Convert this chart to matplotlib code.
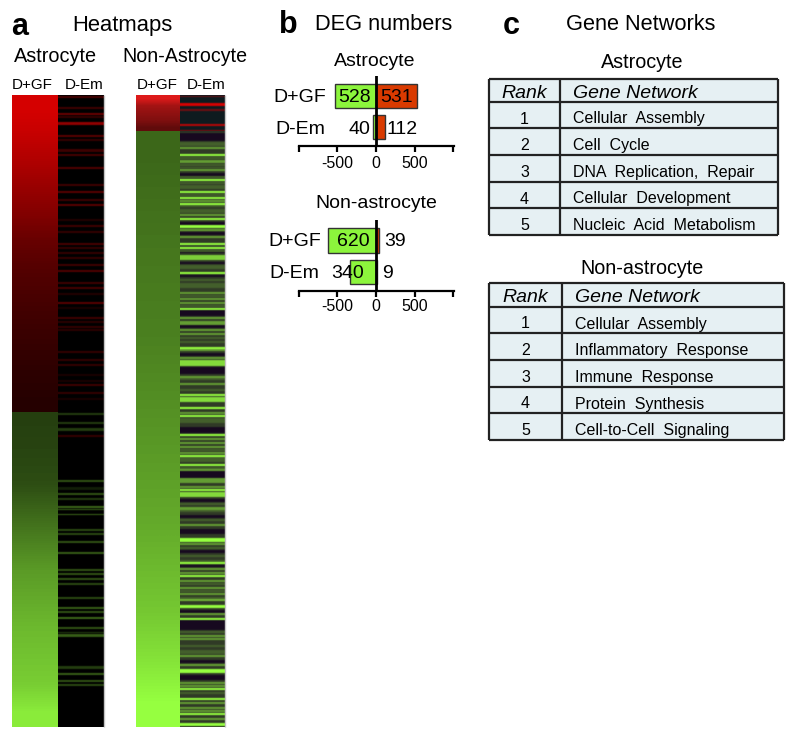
import matplotlib
matplotlib.use('Agg')
import matplotlib.pyplot as plt
from matplotlib.colors import LinearSegmentedColormap
import numpy as np

plt.rcParams['font.family'] = ['Liberation Sans', 'DejaVu Sans']

W, H = 800, 738
N_ROWS = 632

# ── Heatmap data (rows counted from the top of each heatmap) ──
astro_gf_up = [0.95, 0.88, 0.78, 0.68, 0.58, 0.46, 0.38, 0.33, 0.28, 0.24, 0.20, 0.17]
astro_gf_down = [0.25, 0.27, 0.30, 0.40, 0.50, 0.60, 0.66, 0.72, 0.76, 0.80, 0.92]
non_gf_up = [0.95, 0.70, 0.62, 0.55, 0.42]
non_gf_down = [0.40, 0.43, 0.46, 0.48, 0.50, 0.54, 0.58, 0.62, 0.66, 0.72, 0.78, 0.88, 1.00]

# (row, thickness, value): red is positive, green negative
astro_em = [
    (1, 2, 0.4), (12, 2, 0.35), (18, 2, 0.6), (21, 2, 0.3), (27, 3, 0.8), (40, 2, 0.5),
    (44, 2, 0.3), (54, 3, 0.35), (59, 2, 0.4), (72, 2, 0.45), (89, 2, 0.35), (96, 2, 0.5),
    (104, 2, 0.35), (109, 2, 0.5), (124, 2, 0.2), (130, 2, 0.35), (136, 2, 0.3), (148, 2, 0.4),
    (152, 2, 0.3), (157, 2, 0.3), (162, 2, 0.3), (169, 2, 0.35), (175, 2, 0.45), (187, 2, 0.35),
    (192, 2, 0.4), (198, 2, 0.2), (207, 2, 0.5), (212, 2, 0.15), (222, 2, 0.35), (226, 2, 0.25),
    (231, 2, 0.3), (234, 2, 0.25), (256, 2, 0.3), (264, 2, 0.3), (269, 2, 0.3), (279, 2, 0.15),
    (285, 2, 0.15), (289, 2, 0.35), (297, 2, 0.3), (303, 2, 0.15),
    (318, 2, -0.3), (327, 2, -0.3), (333, 3, -0.3), (340, 2, 0.3), (385, 2, -0.4), (392, 3, -0.15),
    (398, 2, -0.4), (403, 2, -0.3), (411, 2, -0.5), (414, 1, -0.5), (419, 1, -0.5), (434, 2, -0.35),
    (438, 2, -0.35), (446, 2, -0.4), (457, 2, -0.45), (474, 2, -0.4), (478, 2, -0.4), (483, 2, -0.4),
    (488, 2, -0.35), (502, 2, -0.35), (512, 2, -0.45), (516, 2, -0.4), (522, 2, -0.5), (532, 2, -0.4),
    (537, 1, -0.3), (539, 3, -0.45), (571, 3, -0.3), (578, 2, -0.45), (585, 2, -0.4), (589, 2, -0.35),
]
non_em_up = [(1, 1, 0.45), (8, 3, 0.95), (14, 2, 0.45), (29, 2, 0.8), (35, 2, 0.6)]
non_em_down = [
    (47, 2, -0.35), (49, 2, -0.35), (52, 2, -0.6), (59, 2, -1), (62, 2, -0.35), (65, 3, -0.6),
    (69, 2, -0.35), (72, 1, -0.35), (74, 2, -0.6), (81, 2, -0.35), (84, 2, -1), (87, 2, -0.35),
    (90, 2, -0.35), (92, 2, -0.35), (96, 2, -1), (99, 2, -0.35), (102, 2, -1), (105, 2, -0.6),
    (108, 2, -1), (110, 2, -0.35), (114, 4, -0.35), (119, 2, -0.6), (123, 2, -1), (130, 3, -1),
    (134, 2, -0.6), (141, 2, -0.6), (148, 2, -1), (152, 2, -1), (155, 2, -0.35), (160, 5, -0.8),
    (170, 4, -0.35), (177, 2, -1), (184, 2, -0.35), (188, 5, -0.35), (197, 2, -0.6), (200, 2, -0.35),
    (203, 2, -0.6), (207, 2, -0.6), (210, 2, -0.35), (213, 2, -1), (222, 2, -0.6), (226, 4, -0.6),
    (234, 2, -0.6), (238, 2, -0.6), (242, 2, -0.35), (246, 2, -0.35), (252, 2, -1), (254, 2, -0.6),
    (262, 2, -0.6), (265, 6, -0.85), (281, 2, -0.6), (283, 2, -0.35), (288, 2, -0.6), (294, 2, -0.35),
    (299, 2, -1), (302, 5, -0.85), (312, 2, -1), (317, 2, -0.6), (320, 2, -1), (323, 5, -0.35),
    (339, 2, -1), (343, 2, -0.6), (347, 2, -0.6), (351, 2, -0.6), (354, 2, -0.35), (357, 2, -0.6),
    (360, 2, -1), (362, 5, -0.35), (369, 2, -1), (372, 2, -0.35), (374, 2, -0.6), (383, 5, -0.6),
    (391, 2, -0.6), (394, 2, -1), (397, 5, -0.85), (408, 2, -0.35), (412, 3, -0.6), (415, 2, -0.35),
    (424, 2, -0.35), (429, 2, -0.6), (443, 4, -1), (448, 2, -0.6), (452, 2, -0.35), (460, 2, -0.35),
    (465, 2, -0.35), (467, 2, -1), (473, 2, -0.6), (477, 2, -0.6), (480, 2, -1), (485, 2, -0.6),
    (488, 2, -0.35), (492, 2, -0.6), (495, 2, -0.35), (498, 2, -0.6), (502, 2, -0.35), (504, 2, -0.7),
    (510, 3, -1), (518, 2, -0.6), (523, 2, -1), (536, 2, -0.35), (540, 2, -0.6), (543, 2, -0.6),
    (550, 2, -0.35), (555, 4, -0.35), (560, 2, -0.6), (569, 2, -0.6), (574, 4, -1), (587, 2, -0.6),
    (590, 2, -0.6), (593, 2, -1), (597, 2, -0.35), (603, 2, -1), (607, 2, -0.6), (612, 2, -0.6),
    (615, 2, -0.6), (618, 2, -1), (623, 2, -0.6), (628, 3, -1),
]
# rows with no signal at all, the rest of that column has a faint green wash
non_em_gaps = [(38, 8), (78, 3), (127, 3), (137, 3), (155, 3), (167, 2), (180, 2), (215, 6), (230, 3),
               (258, 3), (272, 7), (332, 6), (376, 7), (404, 3), (420, 3), (434, 5), (455, 3), (470, 2),
               (515, 3), (525, 10), (565, 3), (580, 5)]
astro_split = 317
non_split = 36

# ── DEG numbers ──
deg_rows = ['D+GF', 'D-Em']
astro_down = [528, 40]
astro_up = [531, 112]
non_down = [620, 340]
non_up = [39, 9]

# ── Gene networks ──
astro_networks = ['Cellular  Assembly', 'Cell  Cycle', 'DNA  Replication,  Repair',
                  'Cellular  Development', 'Nucleic  Acid  Metabolism']
non_networks = ['Cellular  Assembly', 'Inflammatory  Response', 'Immune  Response',
                'Protein  Synthesis', 'Cell-to-Cell  Signaling']
ranks = ['1', '2', '3', '4', '5']

heat = LinearSegmentedColormap.from_list('heat', ['#96ff40', '#000000', '#e00000'])
heat_muted = LinearSegmentedColormap.from_list('heat_m', ['#96ff40', '#000000', '#e81c1c'])
heat_purple = LinearSegmentedColormap.from_list('heat_p', ['#96ff40', '#170a20', '#e00000'])
heat_teal = LinearSegmentedColormap.from_list('heat_t', ['#96ff40', '#0e1c20', '#e00000'])


def px_axes(x0, y0, x1, y1):
    return fig.add_axes([x0 / W, 1 - y1 / H, (x1 - x0) / W, (y1 - y0) / H])


def stripe_rows(stripes, start, stop, kernel, wash=0.0, gaps=()):
    vals = np.full(stop - start, wash)
    for row, n in gaps:
        vals[row - start:row - start + n] = 0
    for row, thick, v in stripes:
        vals[row - start:row - start + thick] = v
    # the scan is slightly soft
    return np.convolve(vals, kernel, mode='same')


def draw_col(ax, vals, start, stop, cmap):
    ax.imshow(np.array(vals).reshape(-1, 1), aspect='auto', cmap=cmap, vmin=-1, vmax=1,
              interpolation='bilinear', extent=[0, 1, stop, start])


def heat_column(x0, x1, up, down, split, up_cmap):
    ax = px_axes(x0, 95, x1, 727)
    draw_col(ax, up, 0, split, up_cmap)
    draw_col(ax, -np.array(down), split, N_ROWS, heat)
    ax.set_xlim(0, 1)
    ax.set_ylim(N_ROWS, 0)
    ax.axis('off')


fig = plt.figure(figsize=(W / 100, H / 100), dpi=100)

# ── a: heatmaps ──
heat_column(12, 58, astro_gf_up, astro_gf_down, astro_split, heat)
heat_column(136, 180, non_gf_up, non_gf_down, non_split, heat_muted)

ax = px_axes(58, 95, 103, 727)
draw_col(ax, stripe_rows(astro_em, 0, N_ROWS, [0.15, 0.5, 0.15]), 0, N_ROWS, heat)
ax.set_xlim(0, 1)
ax.set_ylim(N_ROWS, 0)
ax.axis('off')

ax = px_axes(180, 95, 224, 727)
draw_col(ax, stripe_rows(non_em_up, 0, non_split, [0.2, 0.6, 0.2]), 0, non_split, heat_teal)
draw_col(ax, stripe_rows(non_em_down, non_split, N_ROWS, [0.2, 0.6, 0.2], -0.2, non_em_gaps),
         non_split, N_ROWS, heat_purple)
ax.set_xlim(0, 1)
ax.set_ylim(N_ROWS, 0)
ax.axis('off')


# ── b: bars ──
def deg_panel(y0, y1, down, up, pad):
    ax = px_axes(298.5, y0, 453.5, y1)
    y = np.arange(len(deg_rows))
    ax.barh(y, -np.array(down), 0.78, color='#8cf53c', edgecolor='#333333', linewidth=1)
    ax.barh(y, up, 0.78, color='#d93a00', edgecolor='#333333', linewidth=1)
    ax.axvline(0, color='black', lw=2, zorder=5)
    ax.set_xlim(-1006, 1006)
    ax.set_ylim(1.62, -0.66)
    for s in ['left', 'right', 'top']:
        ax.spines[s].set_visible(False)
    ax.spines['bottom'].set_linewidth(1.6)
    ax.set_yticks([])
    ax.set_xticks([-1000, -500, 0, 500, 1000])
    ax.set_xticklabels(['', '-500', '0', '500', ''], fontsize=11.5)
    ax.tick_params(axis='x', length=4, width=1.6, pad=pad)
    return ax


deg_panel(76, 146, astro_down, astro_up, 3)
deg_panel(220, 291, non_down, non_up, 2)

# ── overlay in pixel coordinates: text and the tables ──
ov = fig.add_axes([0, 0, 1, 1], zorder=10)
ov.set_xlim(0, W)
ov.set_ylim(H, 0)
ov.axis('off')
ov.patch.set_alpha(0)
ov.vlines([103.5, 224.5], 95, 727, color='#c4c4c4', lw=1)


def label(x, y, s, size=14, **kw):
    ov.text(x, y, s, fontsize=size, va='center', ha=kw.pop('ha', 'center'), **kw)


label(19.5, 27, 'a', 22, fontweight='bold')
label(288, 25, 'b', 22, fontweight='bold')
label(511, 26, 'c', 22, fontweight='bold')
label(122, 25, 'Heatmaps', 15.8)
label(384, 25, 'DEG numbers', 15.7)
label(641, 25, 'Gene Networks', 15.7)
label(56, 56, 'Astrocyte', 14.3)
label(184.5, 56, 'Non-Astrocyte', 14.1)
for x, s in [(32, 'D+GF'), (84.5, 'D-Em'), (157, 'D+GF'), (206, 'D-Em')]:
    label(x, 85, s, 11)

label(375, 62, 'Astrocyte', 14)
label(376, 204, 'Non-astrocyte', 14)
label(300, 97, 'D+GF', 14)
label(300, 130, 'D-Em', 14)
label(355, 97, str(astro_down[0]), 14)
label(397, 97, str(astro_up[0]), 14)
label(370, 130, str(astro_down[1]), 14, ha='right')
label(386, 130, str(astro_up[1]), 14, ha='left')
label(295, 241, 'D+GF', 14)
label(294, 273, 'D-Em', 14)
label(353, 241, str(non_down[0]), 14)
label(384, 241, str(non_up[0]), 14, ha='left')
label(331, 273, str(non_down[1]), 14, ha='left')
label(382, 273, str(non_up[1]), 14, ha='left')


def net_table(title, title_y, x1, xdiv, seps, networks):
    label(642, title_y, title, 14.2)
    x0 = 489
    ov.fill_between([x0, x1], seps[0], seps[-1], color='#e6f0f3', lw=0, zorder=1)
    ov.hlines(seps, x0, x1, color='#222222', lw=1.6, zorder=2)
    ov.vlines([x0, xdiv, x1], seps[0], seps[-1], color='#222222', lw=1.6, zorder=2)
    rows = ['Rank'] + ranks
    names = ['Gene Network'] + networks
    for i in range(6):
        yc = (seps[i] + seps[i + 1]) / 2
        head = i == 0
        size = 14 if head else 11.5
        dy = 3 if head else 4
        label((x0 + xdiv) / 2, yc + dy, rows[i], size, style='italic' if head else 'normal')
        label(xdiv + 13, yc + dy, names[i], size, ha='left', style='italic' if head else 'normal')


net_table('Astrocyte', 62, 778, 560, [79, 102, 128, 155, 182, 208, 235], astro_networks)
net_table('Non-astrocyte', 268, 784, 562, [283, 307, 333, 360, 387, 413, 440], non_networks)

fig.savefig('out.png', dpi=100)
